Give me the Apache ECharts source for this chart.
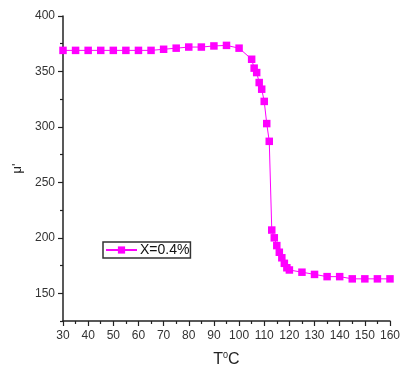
<!DOCTYPE html>
<html>
<head>
<meta charset="utf-8">
<script src="https://cdn.jsdelivr.net/npm/echarts@6/dist/echarts.min.js"></script>
<style>
  html, body { margin: 0; padding: 0; background: #fff; }
  #chart { width: 403px; height: 373px; }
</style>
</head>
<body>
<div id="chart"></div>
<script>
// Temperature (°C) and real permeability μ' for the X = 0.4% sample
const temperature = [30, 35, 40, 45, 50, 55, 60, 65, 70, 75, 80, 85, 90, 95, 100,
  105, 106, 107, 108, 109, 110, 111, 112, 113, 114, 115, 116, 117, 118, 119, 120,
  125, 130, 135, 140, 145, 150, 155, 160];
const permeability = [369, 369, 369, 369, 369, 369, 369, 369, 370, 371, 372, 372, 373, 373.5, 371,
  361, 353, 349, 340, 334, 323, 303, 287, 207, 200, 193, 187, 182, 177, 173, 171,
  169, 167, 165, 165, 163, 163, 163, 163];
const seriesName = 'X=0.4%';
const yMajorTicks = [150, 200, 250, 300, 350, 400];
const yMinorTicks = [125, 175, 225, 275, 325, 375];

const points = temperature.map((t, i) => [t, permeability[i]]);

const axisColor = '#222';
const font = 'Liberation Sans, Arial, sans-serif';
const magenta = '#ff00ff';

const chart = echarts.init(document.getElementById('chart'), null, { renderer: 'canvas' });
chart.setOption({
  animation: false,
  backgroundColor: '#fff',
  textStyle: { fontFamily: font },
  grid: { left: 63, right: 9, top: 16, bottom: 52, containLabel: false },
  legend: {
    left: 103,
    top: 242,
    orient: 'horizontal',
    padding: [1, 1, 1, 2],
    borderColor: '#333',
    borderWidth: 1.5,
    itemWidth: 31,
    itemHeight: 9,
    itemGap: 2,
    textStyle: { fontSize: 14, color: '#111', fontFamily: font, padding: [0, 0, 0, -2] },
    data: [seriesName]
  },
  xAxis: {
    type: 'value',
    min: 30,
    max: 160,
    interval: 10,
    axisLine: { show: true, onZero: false, lineStyle: { color: axisColor, width: 1.5 } },
    axisTick: { show: true, length: 5, lineStyle: { color: axisColor, width: 1.2 } },
    minorTick: { show: true, splitNumber: 2, length: 3, lineStyle: { color: axisColor, width: 1.2 } },
    splitLine: { show: false },
    minorSplitLine: { show: false },
    axisLabel: { fontSize: 12, color: '#333', margin: 9, fontFamily: font },
    name: '{t|T}{s|0}{t|C}',
    nameLocation: 'middle',
    nameGap: 30,
    nameTextStyle: {
      rich: {
        t: { fontSize: 16, lineHeight: 18, color: '#222', fontFamily: font },
        s: { fontSize: 9, lineHeight: 9, color: '#222', fontFamily: font, verticalAlign: 'top' }
      }
    }
  },
  yAxis: [
    {
      type: 'value',
      min: 125,
      max: 400,
      position: 'left',
      axisLine: { show: true, onZero: false, lineStyle: { color: axisColor, width: 1.5 } },
      axisTick: { show: true, length: 5, customValues: yMajorTicks, lineStyle: { color: axisColor, width: 1.2 } },
      splitLine: { show: false },
      axisLabel: { fontSize: 12, color: '#333', margin: 8, customValues: yMajorTicks, fontFamily: font },
      name: "μ'",
      nameLocation: 'middle',
      nameGap: 38,
      nameRotate: 90,
      nameTextStyle: { fontSize: 13, color: '#222', fontFamily: font }
    },
    {
      type: 'value',
      min: 125,
      max: 400,
      position: 'left',
      axisLine: { show: false },
      axisTick: { show: true, length: 3, customValues: yMinorTicks, lineStyle: { color: axisColor, width: 1.2 } },
      splitLine: { show: false },
      axisLabel: { show: false }
    }
  ],
  series: [{
    name: seriesName,
    type: 'line',
    yAxisIndex: 0,
    data: points,
    symbol: 'rect',
    symbolSize: 7.5,
    showSymbol: true,
    lineStyle: { color: magenta, width: 1 },
    itemStyle: { color: magenta, borderWidth: 0 }
  }]
});
</script>
</body>
</html>
